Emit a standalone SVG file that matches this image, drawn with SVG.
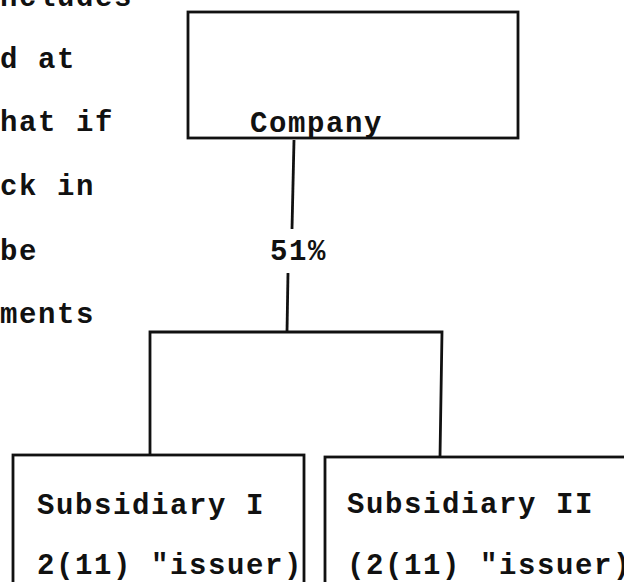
<svg xmlns="http://www.w3.org/2000/svg" width="624" height="582" viewBox="0 0 624 582">
<style>
text{font-family:"Liberation Mono","Courier New",monospace;font-weight:bold;font-size:29px;letter-spacing:1.6px;fill:#111}
.box{fill:none;stroke:#111;stroke-width:2.8}
.conn{fill:none;stroke:#111;stroke-width:2.8}
</style>
<rect width="624" height="582" fill="#fff"/>
<g id="margin-text">
<text x="0" y="6">ncludes</text>
<text x="0" y="68">d at</text>
<text x="0" y="131">hat if</text>
<text x="0" y="195">ck in</text>
<text x="0" y="260">be</text>
<text x="0" y="323">ments</text>
</g>
<g id="company">
<rect class="box" x="188" y="12" width="330" height="126"/>
<text x="250" y="132">Company</text>
</g>
<g id="connectors">
<path class="conn" d="M294 140 L292 229"/>
<path class="conn" d="M288 273 L287 332"/>
<path class="conn" d="M150 455 L150 332 L442 332 L440 457"/>
<text x="270" y="260">51%</text>
</g>
<g id="subsidiary-1">
<rect class="box" x="13" y="455" width="291" height="160"/>
<text x="37" y="514">Subsidiary I</text>
<text x="37" y="574">2(11) "issuer)</text>
</g>
<g id="subsidiary-2">
<rect class="box" x="325" y="457" width="320" height="160"/>
<text x="347" y="513">Subsidiary II</text>
<text x="347" y="574">(2(11) "issuer)</text>
</g>
</svg>
